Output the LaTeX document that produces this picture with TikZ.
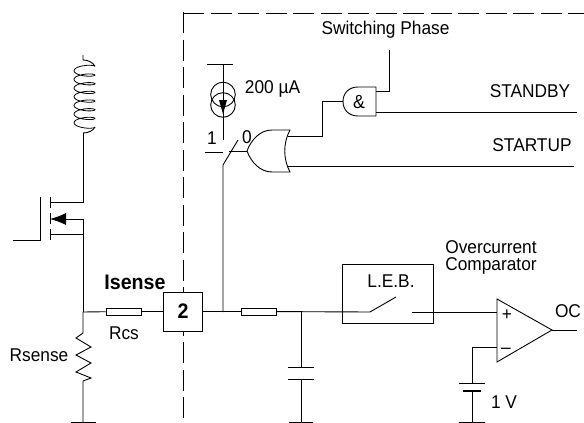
\documentclass[tikz,border=0pt]{standalone}
\usepackage{fontspec}
\setmainfont[FakeStretch=0.935]{Liberation Sans}
\usetikzlibrary{arrows.meta}
\begin{document}
\begin{tikzpicture}[x=1pt,y=-1pt,line width=0.9pt,
    lbl/.style={inner sep=0pt,font=\fontsize{18.5}{20}\selectfont},
    res/.style={draw,fill=white,rectangle,minimum width=35pt,minimum height=7pt,inner sep=0pt},
    bdry/.style={dash pattern=on 21pt off 6.5pt}]
    \useasboundingbox (0,0) rectangle (584,423);

    % chip boundary
    \draw[bdry] (183,13) -- (584,13);
    \draw[bdry] (183,12) -- (183,423);

    % named points
    \coordinate (coiltop) at (83,55);
    \coordinate (coilbot) at (83,133);
    \coordinate (drain) at (83,202);
    \coordinate (chand) at (50,202);
    \coordinate (srcj) at (83,219);
    \coordinate (chans) at (50,219);
    \coordinate (bodyj) at (83,234);
    \coordinate (chanb) at (50,234);
    \coordinate (gatein) at (13,240);
    \coordinate (gatebar) at (40,240);
    \coordinate (sensej) at (83,312);
    \coordinate (zigtop) at (83,333);
    \coordinate (zigbot) at (83,381);
    \coordinate (gnda) at (83,422);
    \coordinate (pinj) at (223,312);
    \coordinate (swlow) at (223,165);
    \coordinate (swhigh) at (238,140);
    \coordinate (capj) at (301,312);
    \coordinate (capa) at (301,367);
    \coordinate (capb) at (301,379);
    \coordinate (gndb) at (301,422);
    \coordinate (lebin) at (370,312);
    \coordinate (lebarm) at (396,297);
    \coordinate (lebout) at (412,312);
    \coordinate (inplus) at (497,312);
    \coordinate (inminus) at (497,347);
    \coordinate (batcorner) at (472,347);
    \coordinate (bata) at (472,383);
    \coordinate (batb) at (472,391);
    \coordinate (gndc) at (472,422);
    \coordinate (outtip) at (552,330);
    \coordinate (outend) at (577,330);
    \coordinate (srctop) at (223,64);
    \coordinate (srcbot) at (223,140);
    \coordinate (orin) at (247,151);
    \coordinate (swleft) at (205,152);
    \coordinate (orouta) at (288,136);
    \coordinate (orbend) at (322,136);
    \coordinate (andbend) at (322,101);
    \coordinate (andin) at (343,101);
    \coordinate (andupa) at (376,91);
    \coordinate (andupb) at (389,91);
    \coordinate (phase) at (389,50);
    \coordinate (standby) at (577,112);
    \coordinate (andlow) at (376,112);
    \coordinate (oroutb) at (287,166);
    \coordinate (startup) at (574,166);

    % boxes
    \node[draw,fill=white,minimum size=39pt,inner sep=0pt,font=\fontsize{21}{21}\selectfont\bfseries] (pin) at (183,311.5) {2};
    \node[res] (rcs) at (123.5,311.5) {};
    \node[res] (rflt) at (258.5,311.5) {};
    \node[draw,minimum width=91pt,minimum height=59pt,inner sep=0pt] (leb) at (387.5,293.5) {};

    % inductor and mosfet
    \draw (coiltop) -- (83,60) .. controls (88,60) and (92,62) .. (95,66);
    \draw[line width=0.8pt] plot[domain=0:2520,samples=141,smooth] ({84.5+10.5*cos(\x)},{66.4+\x/360*8.67-3*sin(\x)});
    \draw (95,127) .. controls (93,131) and (88,133) .. (coilbot);
    \draw (coilbot) -- (drain) -- (chand);
    \draw (chand) ++(0,-5) -- ++(0,11);
    \draw (chans) ++(0,-6) -- ++(0,11);
    \draw (chanb) ++(0,-5) -- ++(0,11);
    \draw (40,197) -- (gatebar) -- (gatein);
    \draw (chanb) -- (bodyj);
    \draw[-{Latex[length=16pt,width=12pt]}] (srcj) -- (chans);
    \draw (srcj) -- (sensej);

    % sense path
    \draw (sensej) -- (rcs) -- (pin);
    \draw (pin) -- (rflt);
    \draw (sensej) -- (zigtop) -- (76,338) -- (91,347) -- (76,355) -- (91,363) -- (76,372) -- (91,378) -- (zigbot) -- (gnda);
    \draw (71,422) -- (96,422);
    \draw (pinj) -- (swlow) -- (swhigh);

    % filter, blanking switch
    \draw (rflt) -- (lebin) -- (lebarm);
    \draw (lebout) -- (inplus);
    \draw (capj) -- (capa);
    \draw (capb) -- (gndb);
    \draw (288,367) -- (314,367);
    \draw (288,379) -- (314,379);
    \draw (289,422) -- (313,422);

    % comparator
    \draw (497,299) -- (497,362) -- (outtip) -- cycle;
    \draw (outtip) -- (outend);
    \draw (inminus) -- (batcorner) -- (bata);
    \draw (459,383) -- (485,383);
    \draw[line width=2.2pt] (463,391) -- (481,391);
    \draw (batb) -- (gndc);
    \draw (459,422) -- (485,422);

    % current source
    \draw (207,64) -- (233,64);
    \draw (srctop) -- (srcbot);
    \draw (223,94.5) circle[radius=12.3];
    \draw (223,105) circle[radius=12.3];
    \fill (223,114) -- (219,100) -- (227,100) -- cycle;

    % switch contacts and gates
    \draw (swleft) -- (223,152);
    \draw (229,151) -- (orin);
    \draw (orin) .. controls (251,140) and (260,130) .. (272,130) -- (290,130)
        .. controls (283,143) and (283,159) .. (290,172) -- (272,172)
        .. controls (260,172) and (251,162) .. (orin);
    \draw (orouta) -- (orbend) -- (andbend) -- (andin);
    \draw (oroutb) -- (startup);
    \draw (376,87) -- (376,116) -- (358,116) .. controls (349,116) and (343,110) .. (343,101.5)
        .. controls (343,93) and (349,87) .. (358,87) -- cycle;
    \draw (andupa) -- (andupb) -- (phase);
    \draw (andlow) -- (standby);

    % labels
    \node[lbl] (lphase) at (385.5,30) {Switching Phase};
    \node[lbl] (lstandby) at (530,91) {STANDBY};
    \node[lbl] (lstartup) at (532,145) {STARTUP};
    \node[lbl] (lamp) at (272.5,89) {200 µA};
    \node[lbl] (lone) at (212,138) {1};
    \node[lbl] (lzero) at (247,137) {0};
    \node[lbl,font=\fontsize{19}{19}\selectfont] (land) at (359,102) {\&};
    \node[lbl,font=\fontsize{21}{21}\selectfont\bfseries] (lisense) at (135,282) {Isense};
    \node[lbl] (lrcs) at (124,333) {Rcs};
    \node[lbl] (lrsense) at (39,355) {Rsense};
    \node[lbl] (lleb) at (391,281) {L.E.B.};
    \node[lbl] (lover) at (491,247) {Overcurrent};
    \node[lbl] (lcomp) at (491,266) {Comparator};
    \node[lbl] (lplus) at (507,315) {+};
    \node[lbl] (lminus) at (506,351) {--};
    \node[lbl] (loc) at (568,311) {OC};
    \node[lbl] (lvolt) at (504,402) {1 V};
\end{tikzpicture}
\end{document}
